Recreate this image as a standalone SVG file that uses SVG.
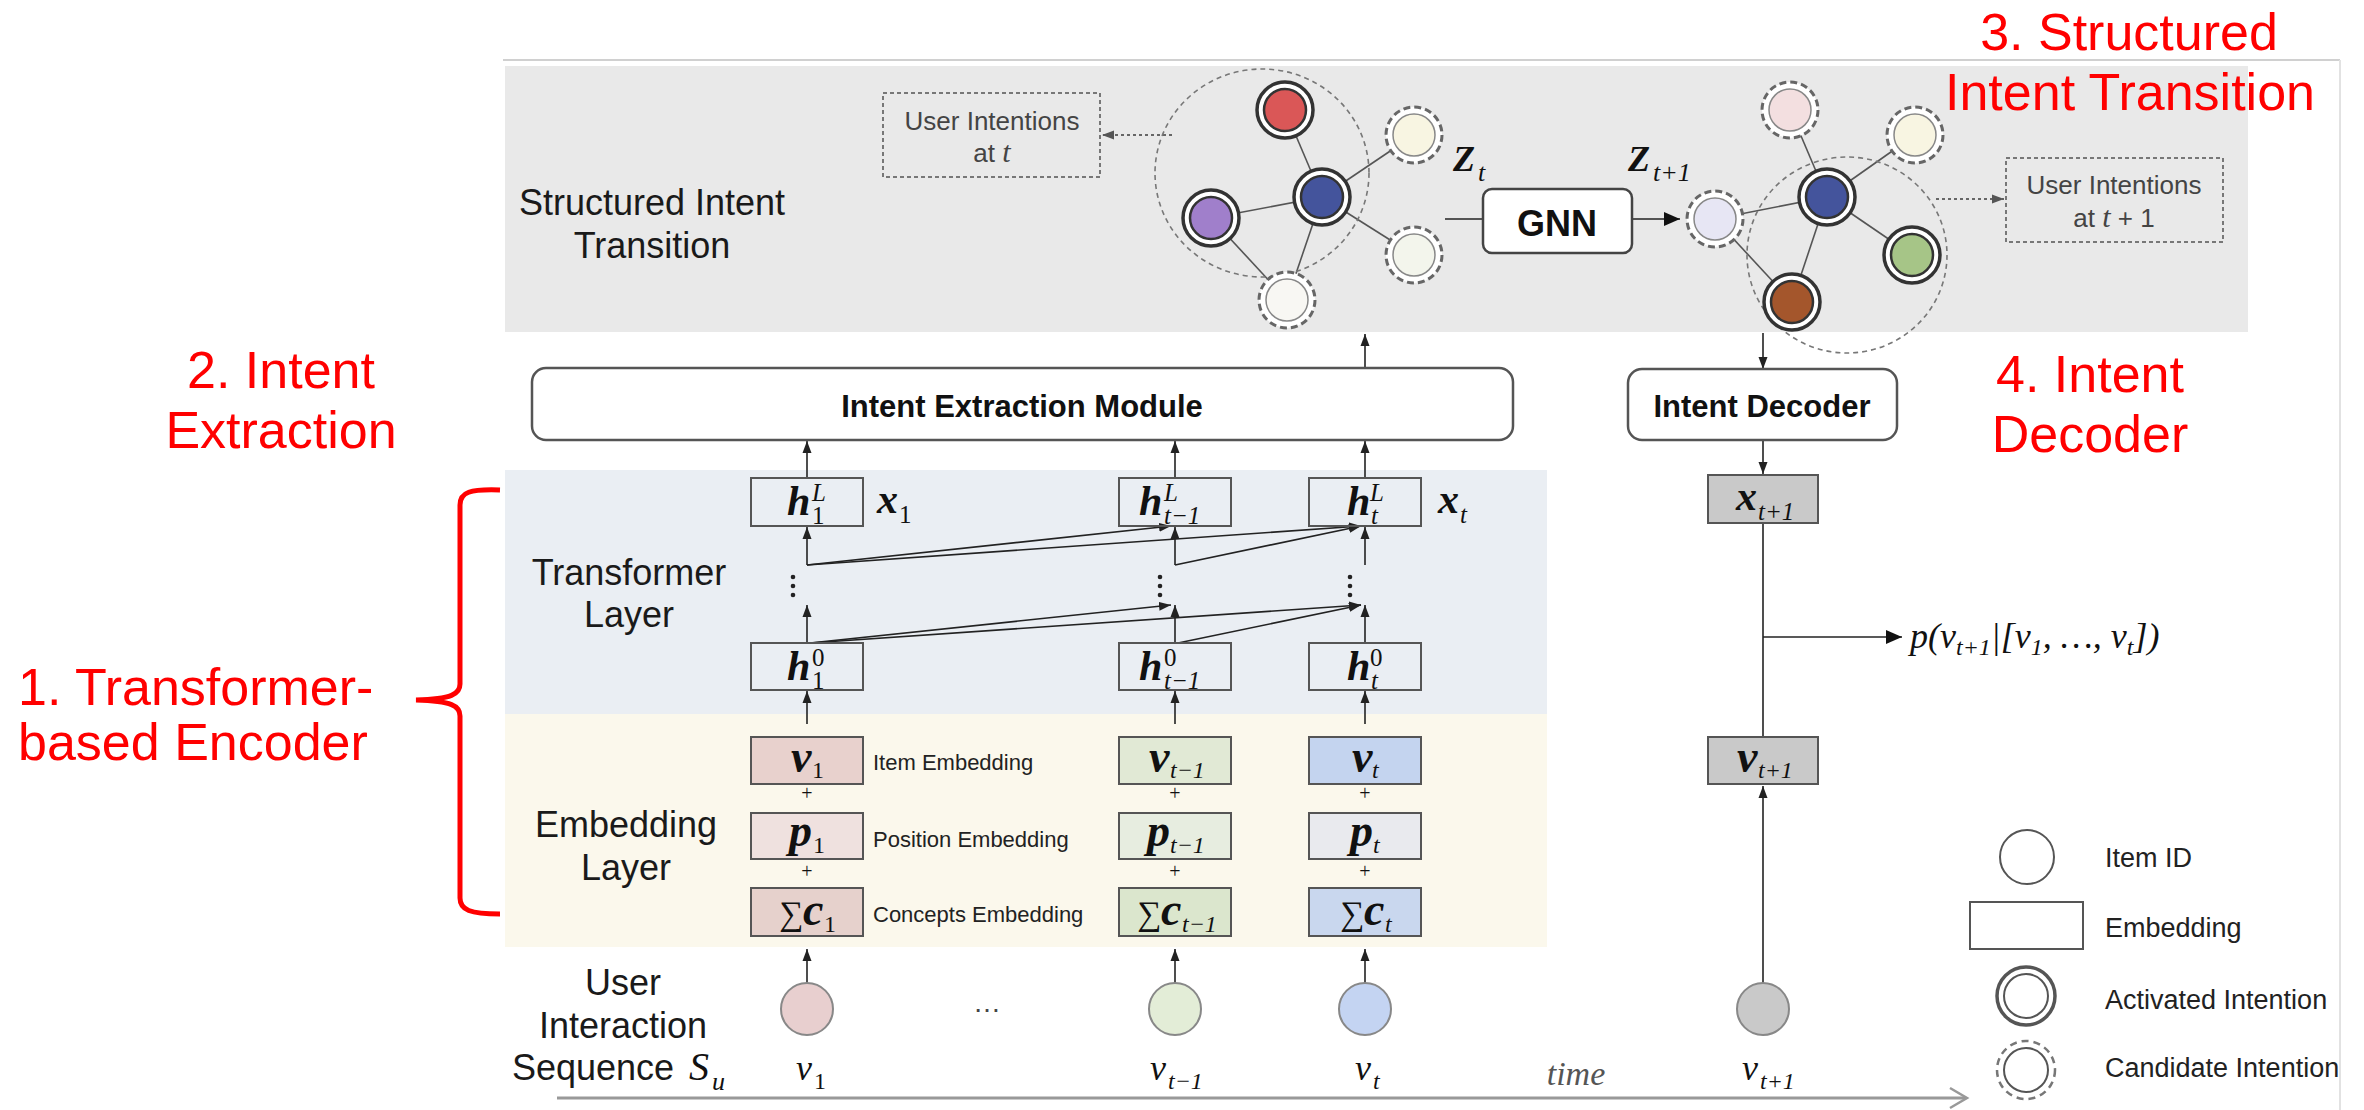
<svg xmlns="http://www.w3.org/2000/svg" width="2364" height="1110" viewBox="0 0 2364 1110">
<defs>
<style>
.sans{font-family:"Liberation Sans",Arial,sans-serif}
.lbl{font-family:"Liberation Sans",Arial,sans-serif;font-size:36px;fill:#1a1a1a;text-anchor:middle}
.red{font-family:"Liberation Sans",Arial,sans-serif;font-size:52px;fill:#ff0000;text-anchor:middle}
.box{stroke:#555;stroke-width:2}
.mb{font-family:"Liberation Serif","Times New Roman",serif;font-style:italic;font-weight:bold;fill:#111}
.mi{font-family:"Liberation Serif","Times New Roman",serif;font-style:italic;fill:#111}
.mr{font-family:"Liberation Serif","Times New Roman",serif;fill:#111}
.ln{stroke:#222;stroke-width:1.6;fill:none}
.edge{stroke:#555;stroke-width:1.6}
.small{font-family:"Liberation Sans",Arial,sans-serif;font-size:22px;fill:#222}
.leg{font-family:"Liberation Sans",Arial,sans-serif;font-size:27px;fill:#222}
.ui{font-family:"Liberation Sans",Arial,sans-serif;font-size:26px;fill:#444;text-anchor:middle}
.ell{fill:none;stroke:#777;stroke-width:1.6;stroke-dasharray:5 4}
.dot{stroke:#666;stroke-width:2;stroke-dasharray:3 3;fill:none}
.aout{fill:#fff;stroke:#333;stroke-width:3.5}
.ain{stroke:#333;stroke-width:2.5}
.cout{fill:#fff;stroke:#666;stroke-width:3;stroke-dasharray:7 4}
.cin{stroke:#888;stroke-width:1.5}
.plus{font-family:"Liberation Serif","Times New Roman",serif;font-size:20px;fill:#111;text-anchor:middle}
</style>
<marker id="ah" viewBox="0 0 12 10" refX="12" refY="5" markerWidth="12" markerHeight="10" markerUnits="userSpaceOnUse" orient="auto"><path d="M0,0.5 L12,5 L0,9.5 z" fill="#222"/></marker>
<marker id="ahb" viewBox="0 0 16 14" refX="16" refY="7" markerWidth="16" markerHeight="14" markerUnits="userSpaceOnUse" orient="auto"><path d="M0,0 L16,7 L0,14 z" fill="#111"/></marker>
<marker id="ahg" viewBox="0 0 12 10" refX="12" refY="5" markerWidth="12" markerHeight="10" markerUnits="userSpaceOnUse" orient="auto"><path d="M0,0.5 L12,5 L0,9.5 z" fill="#555"/></marker>
</defs>

<rect width="2364" height="1110" fill="#ffffff"/>

<g id="frame">
<line x1="503" y1="60" x2="2340" y2="60" stroke="#d0d0d0" stroke-width="2"/>
<line x1="2340" y1="60" x2="2340" y2="1110" stroke="#e2e2e2" stroke-width="2"/>
</g>

<g id="panels">
<rect x="505" y="66" width="1743" height="266" fill="#e9e9e9"/>
<rect x="505" y="470" width="1042" height="244" fill="#eaeef3"/>
<rect x="505" y="714" width="1042" height="233" fill="#fbf8ec"/>
</g>

<g id="section-labels">
<text class="lbl" x="652" y="215">Structured Intent</text>
<text class="lbl" x="652" y="258">Transition</text>
<text class="lbl" x="629" y="585">Transformer</text>
<text class="lbl" x="629" y="627">Layer</text>
<text class="lbl" x="626" y="837">Embedding</text>
<text class="lbl" x="626" y="880">Layer</text>
<text class="lbl" x="623" y="995">User</text>
<text class="lbl" x="623" y="1038">Interaction</text>
<text class="lbl" x="593" y="1080">Sequence</text>
<text class="mi" x="689" y="1080" font-size="40">S</text>
<text class="mi" x="712" y="1090" font-size="26">u</text>
</g>

<g id="annotations">
<text class="red" x="2129" y="50">3. Structured</text>
<text class="red" x="2130" y="110">Intent Transition</text>
<text class="red" x="281" y="388">2. Intent</text>
<text class="red" x="281" y="448">Extraction</text>
<text class="red" x="18" y="705" style="text-anchor:start">1. Transformer-</text>
<text class="red" x="18" y="760" style="text-anchor:start">based Encoder</text>
<text class="red" x="2090" y="392">4. Intent</text>
<text class="red" x="2090" y="452">Decoder</text>
<path d="M500 490 C470 489 460 492 460 505 L460 684 C460 694 452 699 416 700 C452 701 460 706 460 716 L460 898 C460 910 470 914 500 914" fill="none" stroke="#ff0000" stroke-width="5"/>
</g>

<g id="connectors">
<line class="edge" x1="1285" y1="110" x2="1322" y2="197"/>
<line class="edge" x1="1211" y1="218" x2="1322" y2="197"/>
<line class="edge" x1="1211" y1="218" x2="1287" y2="300"/>
<line class="edge" x1="1322" y1="197" x2="1287" y2="300"/>
<line class="edge" x1="1322" y1="197" x2="1414" y2="135"/>
<line class="edge" x1="1322" y1="197" x2="1414" y2="255"/>
<line class="edge" x1="1715" y1="219" x2="1827" y2="197"/>
<line class="edge" x1="1715" y1="219" x2="1792" y2="302"/>
<line class="edge" x1="1827" y1="197" x2="1790" y2="110"/>
<line class="edge" x1="1827" y1="197" x2="1915" y2="135"/>
<line class="edge" x1="1827" y1="197" x2="1912" y2="255"/>
<line class="edge" x1="1827" y1="197" x2="1792" y2="302"/>
<line class="dot" x1="1172" y1="135" x2="1102" y2="135" marker-end="url(#ahg)"/>
<line class="dot" x1="1936" y1="199" x2="2004" y2="199" marker-end="url(#ahg)"/>
<line class="ln" x1="1445" y1="219" x2="1483" y2="219"/>
<line class="ln" x1="1632" y1="219" x2="1680" y2="219" marker-end="url(#ahb)"/>
<line class="ln" x1="1365" y1="368" x2="1365" y2="334" marker-end="url(#ah)"/>
<line class="ln" x1="1763" y1="333" x2="1763" y2="369" marker-end="url(#ah)"/>
<line class="ln" x1="1763" y1="440" x2="1763" y2="474" marker-end="url(#ah)"/>
<line class="ln" x1="1763" y1="523" x2="1763" y2="737"/>
<line class="ln" x1="1763" y1="637" x2="1902" y2="637" marker-end="url(#ahb)"/>
<line class="ln" x1="1763" y1="983" x2="1763" y2="786" marker-end="url(#ah)"/>
<line class="ln" x1="807" y1="478" x2="807" y2="441" marker-end="url(#ah)"/>
<line class="ln" x1="1175" y1="478" x2="1175" y2="441" marker-end="url(#ah)"/>
<line class="ln" x1="1365" y1="478" x2="1365" y2="441" marker-end="url(#ah)"/>
<line class="ln" x1="807" y1="565" x2="807" y2="527" marker-end="url(#ah)"/>
<line class="ln" x1="1175" y1="565" x2="1175" y2="527" marker-end="url(#ah)"/>
<line class="ln" x1="1365" y1="565" x2="1365" y2="527" marker-end="url(#ah)"/>
<line class="ln" x1="807" y1="565" x2="1171" y2="526" marker-end="url(#ah)"/>
<line class="ln" x1="807" y1="565" x2="1361" y2="526" marker-end="url(#ah)"/>
<line class="ln" x1="1175" y1="565" x2="1361" y2="526" marker-end="url(#ah)"/>
<line class="ln" x1="807" y1="643" x2="807" y2="605" marker-end="url(#ah)"/>
<line class="ln" x1="1175" y1="643" x2="1175" y2="605" marker-end="url(#ah)"/>
<line class="ln" x1="1365" y1="643" x2="1365" y2="605" marker-end="url(#ah)"/>
<line class="ln" x1="810" y1="643" x2="1171" y2="605" marker-end="url(#ah)"/>
<line class="ln" x1="810" y1="643" x2="1361" y2="605" marker-end="url(#ah)"/>
<line class="ln" x1="1178" y1="643" x2="1361" y2="605" marker-end="url(#ah)"/>
<line class="ln" x1="807" y1="724" x2="807" y2="691" marker-end="url(#ah)"/>
<line class="ln" x1="1175" y1="724" x2="1175" y2="691" marker-end="url(#ah)"/>
<line class="ln" x1="1365" y1="724" x2="1365" y2="691" marker-end="url(#ah)"/>
<line class="ln" x1="807" y1="983" x2="807" y2="949" marker-end="url(#ah)"/>
<line class="ln" x1="1175" y1="983" x2="1175" y2="949" marker-end="url(#ah)"/>
<line class="ln" x1="1365" y1="983" x2="1365" y2="949" marker-end="url(#ah)"/>
<line x1="557" y1="1098" x2="1966" y2="1098" stroke="#999" stroke-width="3"/>
<polyline points="1950,1088 1967,1098 1950,1108" fill="none" stroke="#999" stroke-width="2.5"/>
</g>

<g id="layer-dots" fill="#222">
<circle cx="793" cy="577" r="2.3"/><circle cx="793" cy="586" r="2.3"/><circle cx="793" cy="595" r="2.3"/>
<circle cx="1160" cy="577" r="2.3"/><circle cx="1160" cy="586" r="2.3"/><circle cx="1160" cy="595" r="2.3"/>
<circle cx="1350" cy="577" r="2.3"/><circle cx="1350" cy="586" r="2.3"/><circle cx="1350" cy="595" r="2.3"/>
</g>

<g id="cluster-t"><ellipse class="ell" cx="1262" cy="173" rx="107" ry="104"/></g>
<g id="node-red" transform="translate(1285,110)"><circle class="aout" r="28"/><circle class="ain" r="21" fill="#da5757"/></g>
<g id="node-blue-t" transform="translate(1322,197)"><circle class="aout" r="28"/><circle class="ain" r="21" fill="#44549c"/></g>
<g id="node-purple" transform="translate(1211,218)"><circle class="aout" r="28"/><circle class="ain" r="21" fill="#a07fcb"/></g>
<g id="node-white-t" transform="translate(1287,300)"><circle class="cout" r="28"/><circle class="cin" r="21" fill="#f8f7f3"/></g>
<g id="node-cream-t1" transform="translate(1414,135)"><circle class="cout" r="28"/><circle class="cin" r="21" fill="#f8f5e2"/></g>
<g id="node-cream-t2" transform="translate(1414,255)"><circle class="cout" r="28"/><circle class="cin" r="21" fill="#f3f5ec"/></g>

<g id="box-intentions-t">
<rect x="883" y="93" width="217" height="84" fill="none" stroke="#777" stroke-width="2" stroke-dasharray="4 3"/>
<text class="ui" x="992" y="130">User Intentions</text>
<text class="ui" x="992" y="162">at <tspan class="mi" style="fill:#444" font-size="30">t</tspan></text>
</g>

<g id="z-labels">
<text class="mb" x="1453" y="171" font-size="36">Z</text>
<text class="mi" x="1478" y="181" font-size="26">t</text>
<text class="mb" x="1628" y="171" font-size="36">Z</text>
<text class="mi" x="1653" y="181" font-size="26">t<tspan class="mr">+1</tspan></text>
</g>

<g id="gnn">
<rect x="1483" y="189" width="149" height="64" rx="9" fill="#fff" stroke="#444" stroke-width="2.5"/>
<text class="sans" x="1557" y="236" font-size="36" font-weight="bold" text-anchor="middle" fill="#111">GNN</text>
</g>

<g id="cluster-t1"><ellipse class="ell" cx="1847" cy="255" rx="100" ry="98"/></g>
<g id="node-lavender" transform="translate(1715,219)"><circle class="cout" r="28"/><circle class="cin" r="21" fill="#e7e6f4"/></g>
<g id="node-pink" transform="translate(1790,110)"><circle class="cout" r="28"/><circle class="cin" r="21" fill="#f3dfe0"/></g>
<g id="node-cream-t1b" transform="translate(1915,135)"><circle class="cout" r="28"/><circle class="cin" r="21" fill="#f8f5e2"/></g>
<g id="node-blue-t1" transform="translate(1827,197)"><circle class="aout" r="28"/><circle class="ain" r="21" fill="#44549c"/></g>
<g id="node-green" transform="translate(1912,255)"><circle class="aout" r="28"/><circle class="ain" r="21" fill="#a6c587"/></g>
<g id="node-brown" transform="translate(1792,302)"><circle class="aout" r="28"/><circle class="ain" r="21" fill="#a4562c"/></g>

<g id="box-intentions-t1">
<rect x="2006" y="158" width="217" height="84" fill="none" stroke="#777" stroke-width="2" stroke-dasharray="4 3"/>
<text class="ui" x="2114" y="194">User Intentions</text>
<text class="ui" x="2114" y="227">at <tspan class="mi" style="fill:#444" font-size="30">t</tspan> + 1</text>
</g>

<g id="intent-extraction-module">
<rect x="532" y="368" width="981" height="72" rx="14" fill="#fff" stroke="#555" stroke-width="2.5"/>
<text class="sans" x="1022" y="417" font-size="31" font-weight="bold" text-anchor="middle" fill="#111">Intent Extraction Module</text>
</g>
<g id="intent-decoder">
<rect x="1628" y="369" width="269" height="71" rx="14" fill="#fff" stroke="#555" stroke-width="2.5"/>
<text class="sans" x="1762" y="417" font-size="31" font-weight="bold" text-anchor="middle" fill="#111">Intent Decoder</text>
</g>

<g id="h1L"><rect class="box" x="751" y="478" width="112" height="48" fill="none"/>
<text class="mb" x="787" y="515" font-size="42">h</text><text class="mi" x="812" y="501" font-size="25">L</text><text class="mr" x="812" y="524" font-size="25">1</text></g>
<g id="ht1L"><rect class="box" x="1119" y="478" width="112" height="48" fill="none"/>
<text class="mb" x="1139" y="515" font-size="42">h</text><text class="mi" x="1164" y="501" font-size="25">L</text><text class="mi" x="1164" y="524" font-size="25">t<tspan class="mr">−1</tspan></text></g>
<g id="htL"><rect class="box" x="1309" y="478" width="112" height="48" fill="none"/>
<text class="mb" x="1347" y="515" font-size="42">h</text><text class="mi" x="1370" y="501" font-size="25">L</text><text class="mi" x="1371" y="524" font-size="25">t</text></g>
<g id="x-labels">
<text class="mb" x="877" y="513" font-size="42">x</text><text class="mr" x="899" y="523" font-size="25">1</text>
<text class="mb" x="1438" y="513" font-size="42">x</text><text class="mi" x="1460" y="523" font-size="25">t</text>
</g>
<g id="h10"><rect class="box" x="751" y="643" width="112" height="47" fill="none"/>
<text class="mb" x="787" y="680" font-size="42">h</text><text class="mr" x="812" y="666" font-size="25">0</text><text class="mr" x="812" y="689" font-size="25">1</text></g>
<g id="ht10"><rect class="box" x="1119" y="643" width="112" height="47" fill="none"/>
<text class="mb" x="1139" y="680" font-size="42">h</text><text class="mr" x="1164" y="666" font-size="25">0</text><text class="mi" x="1164" y="689" font-size="25">t<tspan class="mr">−1</tspan></text></g>
<g id="ht0"><rect class="box" x="1309" y="643" width="112" height="47" fill="none"/>
<text class="mb" x="1347" y="680" font-size="42">h</text><text class="mr" x="1370" y="666" font-size="25">0</text><text class="mi" x="1371" y="689" font-size="25">t</text></g>

<g id="emb-1">
<rect class="box" x="751" y="737" width="112" height="47" fill="#e8d1cd"/>
<text class="mb" x="791" y="772" font-size="46">v</text><text class="mr" x="812" y="778" font-size="24">1</text>
<text class="plus" x="807" y="800">+</text>
<rect class="box" x="751" y="813" width="112" height="46" fill="#efe1df"/>
<text class="mb" x="789" y="846" font-size="46">p</text><text class="mr" x="813" y="853" font-size="24">1</text>
<text class="plus" x="807" y="878">+</text>
<rect class="box" x="751" y="888" width="112" height="48" fill="#e6d1cc"/>
<text class="mr" x="779" y="925" font-size="34">∑</text><text class="mb" x="803" y="925" font-size="46">c</text><text class="mr" x="824" y="932" font-size="24">1</text>
</g>
<g id="emb-t1">
<rect class="box" x="1119" y="737" width="112" height="47" fill="#e1e9d5"/>
<text class="mb" x="1149" y="772" font-size="46">v</text><text class="mi" x="1170" y="778" font-size="24">t<tspan class="mr">−1</tspan></text>
<text class="plus" x="1175" y="800">+</text>
<rect class="box" x="1119" y="813" width="112" height="46" fill="#e7ede0"/>
<text class="mb" x="1147" y="846" font-size="46">p</text><text class="mi" x="1170" y="853" font-size="24">t<tspan class="mr">−1</tspan></text>
<text class="plus" x="1175" y="878">+</text>
<rect class="box" x="1119" y="888" width="112" height="48" fill="#dbe6cd"/>
<text class="mr" x="1137" y="925" font-size="34">∑</text><text class="mb" x="1161" y="925" font-size="46">c</text><text class="mi" x="1182" y="932" font-size="24">t<tspan class="mr">−1</tspan></text>
</g>
<g id="emb-t">
<rect class="box" x="1309" y="737" width="112" height="47" fill="#c4d4ef"/>
<text class="mb" x="1352" y="772" font-size="46">v</text><text class="mi" x="1372" y="778" font-size="24">t</text>
<text class="plus" x="1365" y="800">+</text>
<rect class="box" x="1309" y="813" width="112" height="46" fill="#e9eaee"/>
<text class="mb" x="1350" y="846" font-size="46">p</text><text class="mi" x="1373" y="853" font-size="24">t</text>
<text class="plus" x="1365" y="878">+</text>
<rect class="box" x="1309" y="888" width="112" height="48" fill="#c9d7ee"/>
<text class="mr" x="1340" y="925" font-size="34">∑</text><text class="mb" x="1364" y="925" font-size="46">c</text><text class="mi" x="1385" y="932" font-size="24">t</text>
</g>
<g id="emb-labels">
<text class="small" x="873" y="770">Item Embedding</text>
<text class="small" x="873" y="847">Position Embedding</text>
<text class="small" x="873" y="922">Concepts Embedding</text>
</g>

<g id="x-next"><rect class="box" x="1708" y="475" width="110" height="48" fill="#c9c9c9"/>
<text class="mb" x="1736" y="510" font-size="42">x</text><text class="mi" x="1758" y="520" font-size="25">t<tspan class="mr">+1</tspan></text></g>
<g id="v-next-emb"><rect class="box" x="1708" y="737" width="110" height="47" fill="#c9c9c9"/>
<text class="mb" x="1737" y="772" font-size="46">v</text><text class="mi" x="1758" y="778" font-size="24">t<tspan class="mr">+1</tspan></text></g>

<g id="prediction">
<text class="mi" x="1910" y="648" font-size="36">p(v<tspan font-size="24" dy="7">t+1</tspan><tspan dy="-7">|[v</tspan><tspan font-size="24" dy="7">1</tspan><tspan dy="-7">, …, v</tspan><tspan font-size="24" dy="7">t</tspan><tspan dy="-7">])</tspan></text>
</g>

<g id="item-1"><circle cx="807" cy="1009" r="26" fill="#e8cfcf" stroke="#888" stroke-width="2"/>
<text class="mi" x="796" y="1080" font-size="36">v</text><text class="mr" x="814" y="1089" font-size="24">1</text></g>
<g id="item-t1"><circle cx="1175" cy="1009" r="26" fill="#e3edd7" stroke="#888" stroke-width="2"/>
<text class="mi" x="1150" y="1080" font-size="36">v</text><text class="mi" x="1168" y="1089" font-size="24">t<tspan class="mr">−1</tspan></text></g>
<g id="item-t"><circle cx="1365" cy="1009" r="26" fill="#c4d4f2" stroke="#888" stroke-width="2"/>
<text class="mi" x="1355" y="1080" font-size="36">v</text><text class="mi" x="1373" y="1089" font-size="24">t</text></g>
<g id="item-next"><circle cx="1763" cy="1009" r="26" fill="#c9c9c9" stroke="#888" stroke-width="2"/>
<text class="mi" x="1742" y="1080" font-size="36">v</text><text class="mi" x="1760" y="1089" font-size="24">t<tspan class="mr">+1</tspan></text></g>
<text class="sans" x="987" y="1012" font-size="28" fill="#444" text-anchor="middle">…</text>
<text class="mi" x="1576" y="1085" font-size="34" text-anchor="middle" style="fill:#555">time</text>

<g id="legend">
<circle cx="2027" cy="857" r="27" fill="#fff" stroke="#555" stroke-width="2"/>
<text class="leg" x="2105" y="867">Item ID</text>
<rect x="1970" y="902" width="113" height="47" fill="#fff" stroke="#555" stroke-width="2"/>
<text class="leg" x="2105" y="937">Embedding</text>
<circle cx="2026" cy="996" r="29" fill="#fff" stroke="#555" stroke-width="3.5"/>
<circle cx="2026" cy="996" r="22" fill="#fff" stroke="#555" stroke-width="2"/>
<text class="leg" x="2105" y="1009">Activated Intention</text>
<circle cx="2026" cy="1070" r="29" fill="#fff" stroke="#777" stroke-width="2.5" stroke-dasharray="7 5"/>
<circle cx="2026" cy="1070" r="22" fill="#fff" stroke="#555" stroke-width="2"/>
<text class="leg" x="2105" y="1077">Candidate Intention</text>
</g>
</svg>
